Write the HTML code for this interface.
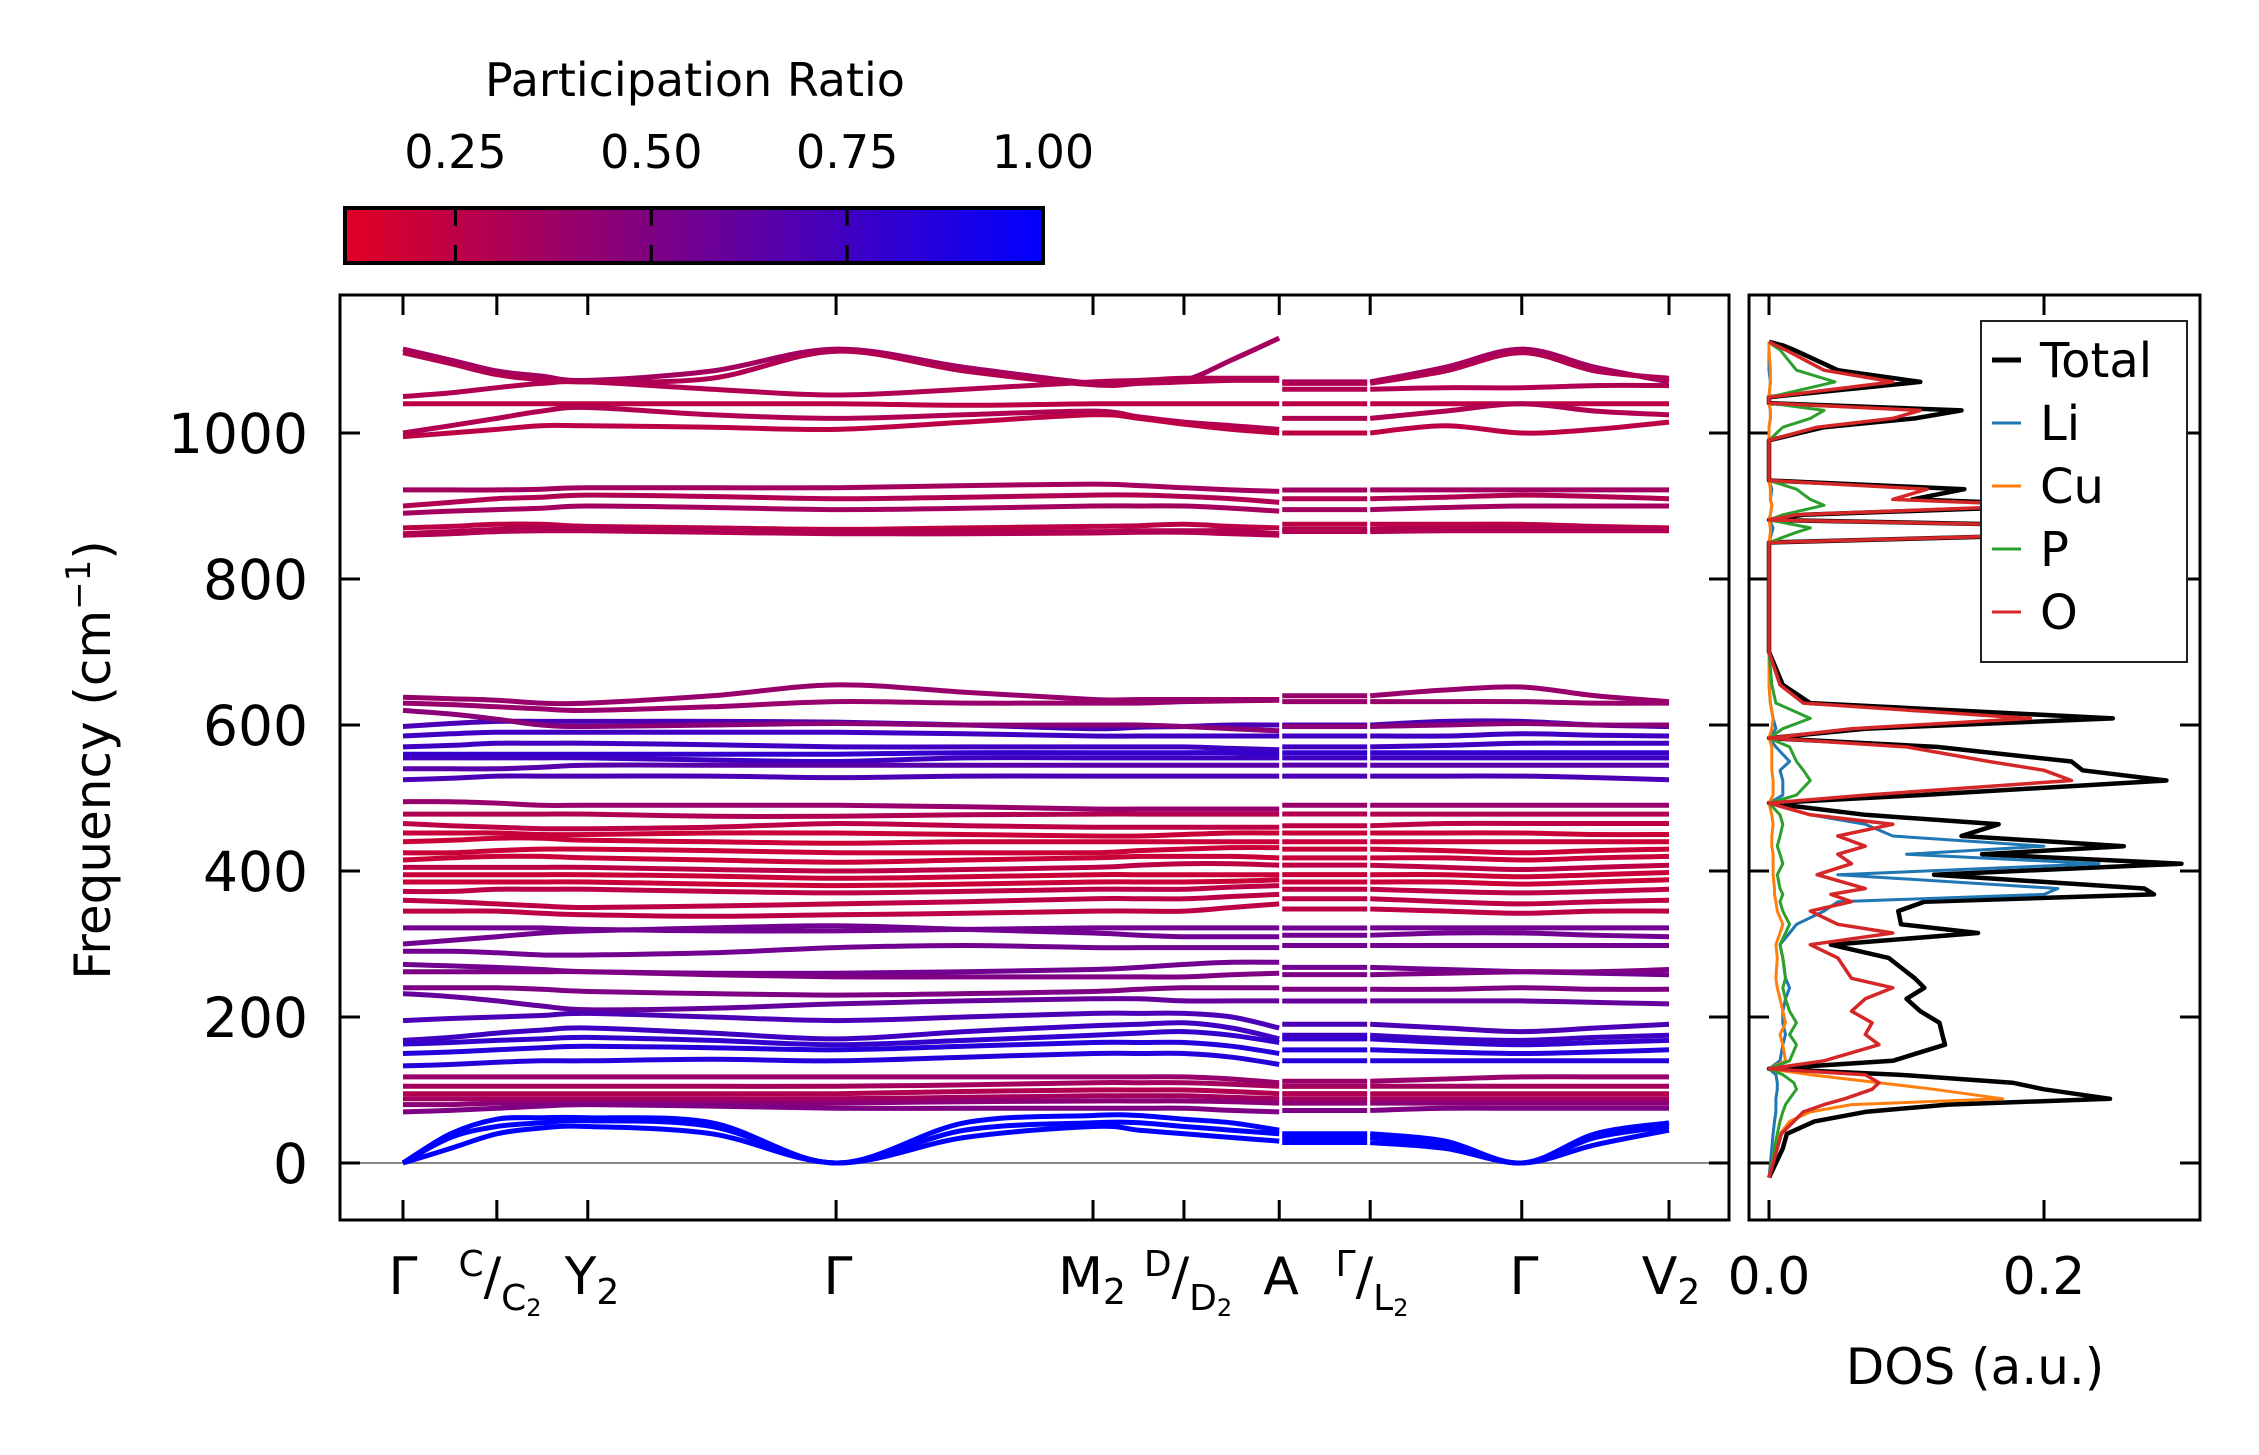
<!DOCTYPE html>
<html><head><meta charset="utf-8">
<style>
html,body{margin:0;padding:0;background:#fff;}
svg{display:block;font-family:"DejaVu Sans","Liberation Sans",sans-serif;}
</style></head>
<body>
<svg id="fig" width="2259" height="1455" viewBox="0 0 2259 1455" xmlns="http://www.w3.org/2000/svg">
<defs>
<linearGradient id="cbgrad" x1="0" x2="1" y1="0" y2="0">
<stop offset="0" stop-color="rgb(225,0,35)"/><stop offset="1" stop-color="rgb(0,0,255)"/>
</linearGradient>
<clipPath id="mainclip"><rect x="340" y="295" width="1389" height="925"/></clipPath>
<clipPath id="dosclip"><rect x="1749" y="295" width="451" height="925"/></clipPath>
</defs>
<g id="colorbar">
<text x="695" y="96" font-size="46" text-anchor="middle">Participation Ratio</text>
<rect x="345" y="208" width="698" height="55" fill="url(#cbgrad)" stroke="#000" stroke-width="4"/>
<g id="cbticks"></g>
</g>
<g id="main">
<line x1="340" x2="1729" y1="1163" y2="1163" stroke="#888" stroke-width="2"/>
<g id="bands" clip-path="url(#mainclip)"></g>
<rect x="340" y="295" width="1389" height="925" fill="none" stroke="#000" stroke-width="3"/>
<g id="mainticks"></g>
<text transform="translate(110,760) rotate(-90)" font-size="50" text-anchor="middle">Frequency (cm<tspan font-size="34" dy="-20">−1</tspan><tspan dy="20">)</tspan></text>
</g>
<g font-size="52">
<text x="403" y="1294" text-anchor="middle">Γ</text>
<text x="500" y="1294" text-anchor="middle"><tspan font-size="36" dy="-18">C</tspan><tspan dy="18">/</tspan><tspan font-size="36" dy="16">C</tspan><tspan font-size="24" dy="6">2</tspan></text>
<text x="592" y="1294" text-anchor="middle">Y<tspan font-size="36" dy="10">2</tspan></text>
<text x="838" y="1294" text-anchor="middle">Γ</text>
<text x="1092" y="1294" text-anchor="middle">M<tspan font-size="36" dy="10">2</tspan></text>
<text x="1188" y="1294" text-anchor="middle"><tspan font-size="36" dy="-18">D</tspan><tspan dy="18">/</tspan><tspan font-size="36" dy="16">D</tspan><tspan font-size="24" dy="6">2</tspan></text>
<text x="1281" y="1294" text-anchor="middle">A</text>
<text x="1372" y="1294" text-anchor="middle"><tspan font-size="36" dy="-18">Γ</tspan><tspan dy="18">/</tspan><tspan font-size="36" dy="16">L</tspan><tspan font-size="24" dy="6">2</tspan></text>
<text x="1524" y="1294" text-anchor="middle">Γ</text>
<text x="1671" y="1294" text-anchor="middle">V<tspan font-size="36" dy="10">2</tspan></text>
</g>
<g id="dos">
<g id="doslines" clip-path="url(#dosclip)"></g>
<rect x="1749" y="295" width="451" height="925" fill="none" stroke="#000" stroke-width="3"/>
<g id="dosticks"></g>
<text x="1975" y="1384" font-size="50" text-anchor="middle">DOS (a.u.)</text>
<g id="legend">
<rect x="1981" y="321" width="206" height="341" fill="#fff" stroke="#222" stroke-width="2"/>
</g>
</g>
</svg>
<script>
const kTicks = [0, 0.65, 1.28, 3.0, 4.78, 5.41, 6.07, 6.70, 7.75, 8.77];
const kNodes = [0,0.33,0.65,0.96,1.28,2.14,3.0,3.89,4.78,5.1,5.41,5.74,6.07, 6.70,7.22,7.75,8.26,8.77];
const yTicks = [0,200,400,600,800,1000];
const cbTicks = [0.25,0.50,0.75,1.00];
const cbTickLabels = ["0.25","0.50","0.75","1.00"];
const bandFreqs = [
[1115,1100,1085,1078,1072,1085,1115,1090,1068,1070,1072,1100,1130, 1070,1090,1115,1090,1070],
[1110,1095,1080,1073,1070,1075,1112,1085,1066,1068,1070,1072,1072, 1068,1085,1110,1085,1075],
[1050,1055,1062,1068,1070,1060,1052,1060,1070,1072,1075,1075,1075, 1060,1062,1062,1065,1065],
[1040,1040,1040,1040,1040,1040,1040,1038,1040,1040,1040,1040,1040, 1040,1040,1040,1040,1040],
[1000,1010,1020,1030,1035,1025,1020,1025,1030,1022,1015,1010,1005, 1020,1030,1040,1030,1025],
[995,1000,1005,1010,1010,1008,1005,1015,1025,1020,1012,1005,1000, 1000,1010,1000,1005,1015],
[922,922,922,923,925,925,925,928,930,928,925,922,920, 922,922,922,922,922],
[900,905,910,912,915,913,910,912,915,915,913,910,905, 910,912,915,913,910],
[890,893,895,897,900,898,895,897,900,900,900,897,893, 895,898,900,900,900],
[870,872,875,875,872,870,868,870,872,873,875,872,870, 875,875,875,872,870],
[862,865,868,870,870,868,865,865,865,866,866,866,862, 868,870,870,870,868],
[860,862,865,866,866,864,862,862,863,864,864,862,860, 865,866,866,866,866],
[638,636,634,630,630,640,655,645,635,635,635,635,635, 640,648,652,640,632],
[630,628,625,622,620,625,632,630,630,630,632,633,634, 632,632,632,630,630],
[598,602,605,605,605,605,604,600,595,597,598,600,600, 600,605,605,600,598],
[620,615,608,600,598,600,602,600,600,600,598,595,592, 598,600,602,600,600],
[585,588,590,590,590,590,590,588,585,585,585,585,585, 585,585,588,586,585],
[570,572,575,575,575,573,570,570,570,570,570,568,566, 570,572,575,575,575],
[560,560,560,560,560,560,560,562,562,562,562,562,560, 562,562,562,562,562],
[555,555,555,555,555,552,550,555,555,555,555,555,555, 555,555,555,555,555],
[540,540,540,542,545,545,545,545,545,545,545,545,545, 545,545,545,545,545],
[525,527,530,530,530,530,528,530,530,530,530,530,530, 530,530,530,528,525],
[495,495,493,490,490,490,490,488,485,485,485,485,485, 490,490,490,490,490],
[478,478,478,478,478,475,475,477,478,478,478,478,478, 478,478,478,478,478],
[465,462,460,458,458,460,465,462,460,460,460,460,460, 462,465,465,465,465],
[452,452,452,450,450,452,452,450,448,448,450,452,452, 452,452,452,450,450],
[440,442,445,445,442,440,438,440,440,440,440,440,440, 440,440,440,440,440],
[425,425,428,430,430,428,425,425,425,428,430,432,432, 430,428,425,428,430],
[415,418,420,420,418,415,412,415,418,420,420,420,418, 418,418,415,418,420],
[405,405,405,405,405,402,400,402,405,408,410,410,408, 408,405,402,405,408],
[395,395,395,395,395,393,390,392,395,395,395,395,395, 395,395,392,395,398],
[385,385,385,385,385,382,380,382,385,385,385,386,388, 385,385,382,385,388],
[372,372,375,375,375,372,370,372,375,375,375,378,380, 375,372,370,372,375],
[360,358,355,352,350,352,355,358,362,362,362,365,368, 362,358,355,358,360],
[345,345,345,342,340,338,340,342,345,345,345,350,355, 348,345,342,345,345],
[322,322,322,322,320,318,318,320,322,322,322,322,322, 322,322,322,322,322],
[300,305,310,315,318,322,325,320,315,312,310,310,310, 312,315,315,312,310],
[290,290,288,285,285,288,295,298,295,295,295,295,295, 298,298,298,298,298],
[272,270,268,265,262,260,260,262,265,268,272,275,275, 268,265,262,260,258],
[262,262,262,262,262,258,255,255,255,255,255,258,260, 258,260,262,262,265],
[240,240,240,238,235,232,230,232,235,238,240,240,240, 238,238,240,238,238],
[232,228,222,215,210,212,218,222,225,225,222,222,222, 222,222,222,220,218],
[195,198,200,202,205,200,195,200,205,205,205,200,185, 190,185,180,185,190],
[168,172,178,182,185,178,170,180,188,190,192,185,170, 175,170,168,172,175],
[163,165,168,170,172,168,162,168,175,178,180,175,165, 170,165,162,165,168],
[150,152,155,158,160,158,155,160,165,165,165,160,150, 155,152,150,152,155],
[133,135,138,140,140,142,140,145,150,150,150,145,135, 140,140,140,140,140],
[118,118,118,118,118,118,118,118,118,118,118,115,110, 112,115,118,118,118],
[105,105,105,105,105,105,105,107,110,110,110,108,105, 105,105,105,105,105],
[95,95,95,95,95,95,95,98,100,100,100,98,95, 95,95,95,95,95],
[88,88,88,88,88,88,88,90,92,92,92,90,88, 88,88,88,88,88],
[80,80,82,82,82,82,82,84,85,85,85,84,82, 82,82,82,82,82],
[70,72,75,78,80,78,75,75,75,75,75,72,70, 72,75,75,75,75],
[0,40,60,62,62,55,0,55,65,65,60,55,45, 40,30,0,40,55],
[0,35,50,55,58,50,0,45,55,55,50,45,40, 35,25,0,35,50],
[0,20,40,48,50,40,0,35,50,45,40,35,30, 28,20,0,25,45]
];
const bandPR = [0.35,0.3,0.3,0.25,0.3,0.25,0.35,0.3,0.35,0.25,0.3,0.3,
0.4,0.4,0.7,0.45,0.75,0.75,0.8,0.75,0.65,0.7,
0.4,0.3,0.25,0.2,0.2,0.2,0.2,0.25,0.2,0.2,0.25,0.25,0.25,
0.55,0.55,0.55,0.55,0.5,0.5,0.6,
0.7,0.75,0.8,0.85,0.85,
0.4,0.35,0.3,0.35,0.45,0.5,
1.0,1.0,1.0];
const dosFreq = [-20,0,20,40,57,70,80,88,101,110,121,129,140,162,176,192,208,225,240,253,281,299,315,327,345,358,368,376,395,410,423,434,448,464,477,493,504,524,538,550,570,582,595,609,630,655,700,850,864,870,881,888,901,909,923,935,990,1008,1020,1031,1041,1049,1070,1086,1114,1120,1125];
const dosTotal = [0,0.005,0.01,0.013,0.033,0.07,0.13,0.248,0.2,0.177,0.094,0.0,0.09,0.128,0.126,0.124,0.11,0.1,0.113,0.106,0.087,0.045,0.152,0.096,0.094,0.113,0.28,0.273,0.12,0.3,0.155,0.258,0.14,0.167,0.07,0.0,0.11,0.289,0.228,0.22,0.122,0.0,0.07,0.25,0.03,0.01,0,0,0.28,0.3,0.0,0.025,0.22,0.104,0.142,0.0,0,0.04,0.106,0.14,0.0,0.0,0.11,0.05,0.018,0.01,0];
const dosLi = [0,0.001,0.002,0.003,0.004,0.005,0.005,0.005,0.006,0.006,0.005,0,0.008,0.01,0.012,0.01,0.01,0.012,0.015,0.012,0.01,0.008,0.015,0.02,0.04,0.05,0.2,0.21,0.05,0.24,0.1,0.2,0.09,0.07,0.03,0.0,0.01,0.01,0.008,0.015,0.005,0,0.005,0.003,0.001,0,0,0,0.002,0.003,0,0.001,0.002,0.001,0.002,0,0,0,0.001,0.001,0,0,0.001,0,0,0,0];
const dosCu = [0,0.002,0.005,0.008,0.015,0.03,0.06,0.17,0.12,0.08,0.03,0,0.012,0.01,0.008,0.012,0.01,0.008,0.006,0.005,0.006,0.005,0.008,0.01,0.006,0.005,0.004,0.004,0.003,0.003,0.003,0.002,0.002,0.003,0.002,0,0.003,0.003,0.002,0.002,0.002,0,0.002,0.003,0.001,0,0,0,0.001,0.001,0,0.001,0.002,0.001,0.001,0,0,0,0.001,0.001,0,0,0.001,0.001,0,0,0];
const dosP = [0,0.002,0.004,0.006,0.008,0.01,0.012,0.015,0.02,0.018,0.01,0,0.015,0.02,0.015,0.02,0.015,0.012,0.01,0.012,0.01,0.008,0.012,0.015,0.01,0.008,0.01,0.008,0.006,0.01,0.008,0.006,0.008,0.01,0.008,0,0.02,0.03,0.025,0.02,0.015,0,0.01,0.03,0.005,0.002,0,0,0.02,0.03,0,0.01,0.04,0.03,0.02,0,0,0.01,0.03,0.04,0,0,0.048,0.02,0.008,0.003,0];
const dosO = [0,0.003,0.006,0.009,0.018,0.025,0.04,0.055,0.075,0.08,0.07,0.0,0.04,0.08,0.07,0.075,0.06,0.07,0.09,0.06,0.05,0.03,0.09,0.05,0.03,0.06,0.045,0.07,0.035,0.06,0.05,0.07,0.05,0.09,0.03,0.0,0.07,0.22,0.2,0.16,0.1,0.0,0.06,0.19,0.025,0.008,0,0,0.27,0.29,0.0,0.02,0.2,0.09,0.115,0.0,0,0.035,0.09,0.11,0.0,0.0,0.09,0.04,0.012,0.005,0];
const dosXTicks = [0.0, 0.2];
const dosXTickLabels = ["0.0","0.2"];
const legendLabels = ["Total","Li","Cu","P","O"];

const NS = "http://www.w3.org/2000/svg";
const xk = k => 403 + k * (1669 - 403) / 8.77;
const yf = f => 1163 - f * 0.73;
const xd = v => 1769 + v * 1375;
const xcb = p => 345 + (p - 0.109) / (1 - 0.109) * 698;
function mk(tag, attrs, parent){const e=document.createElementNS(NS,tag);for(const a in attrs)e.setAttribute(a,attrs[a]);parent.appendChild(e);return e;}
function prColor(p){const t=Math.max(0,Math.min(1,(p-0.109)/(1-0.109)));return `rgb(${Math.round(225*(1-t))},0,${Math.round(35+220*t)})`;}
function smoothPath(pts){
  let d=`M${pts[0][0].toFixed(1)},${pts[0][1].toFixed(1)}`;
  for(let i=0;i<pts.length-1;i++){
    const p0=pts[Math.max(0,i-1)],p1=pts[i],p2=pts[i+1],p3=pts[Math.min(pts.length-1,i+2)];
    const c1=[p1[0]+(p2[0]-p0[0])/6,p1[1]+(p2[1]-p0[1])/6];
    const c2=[p2[0]-(p3[0]-p1[0])/6,p2[1]-(p3[1]-p1[1])/6];
    d+=`C${c1[0].toFixed(1)},${c1[1].toFixed(1)} ${c2[0].toFixed(1)},${c2[1].toFixed(1)} ${p2[0].toFixed(1)},${p2[1].toFixed(1)}`;
  }
  return d;
}

const cbg=document.getElementById('cbticks');
cbTicks.forEach((p,i)=>{
  const x=xcb(p);
  if(p<1){
    const t1=mk('line',{x1:x,x2:x,y1:208,y2:226,stroke:'#000','stroke-width':3},cbg);
    
    
    const t2=mk('line',{x1:x,x2:x,y1:245,y2:263,stroke:'#000','stroke-width':3},cbg);
    
    
  }
  const tx=mk('text',{x:x,y:168,'font-size':46,'text-anchor':'middle'},cbg);
  tx.textContent=cbTickLabels[i];
  
  
});

const bg=document.getElementById('bands');
bandFreqs.forEach((b,bi)=>{
  const col=prColor(bandPR[bi]);
  const p1=[];for(let i=0;i<=12;i++)p1.push([xk(kNodes[i]),yf(b[i])]);
  const p3=[];for(let i=13;i<kNodes.length;i++)p3.push([xk(kNodes[i]),yf(b[i])]);
  const a=mk('path',{d:smoothPath(p1),fill:'none',stroke:col,'stroke-width':5},bg);
  
  
  const m=mk('line',{x1:xk(kNodes[12])+3,x2:xk(kNodes[13])-3,y1:yf(b[13]),y2:yf(b[13]),stroke:col,'stroke-width':5},bg);
  
  
  const c=mk('path',{d:smoothPath(p3),fill:'none',stroke:col,'stroke-width':5},bg);
  
  
});

const mt=document.getElementById('mainticks');
yTicks.forEach(f=>{
  const y=yf(f);
  const l=mk('line',{x1:340,x2:360,y1:y,y2:y,stroke:'#000','stroke-width':3},mt);
  
  
  const r=mk('line',{x1:1709,x2:1729,y1:y,y2:y,stroke:'#000','stroke-width':3},mt);
  
  
  const t=mk('text',{x:308,y:y+20,'font-size':55,'text-anchor':'end'},mt);
  t.textContent=String(f);
  
  
  const dl=mk('line',{x1:1749,x2:1769,y1:y,y2:y,stroke:'#000','stroke-width':3},mt);
  
  
  const dr=mk('line',{x1:2180,x2:2200,y1:y,y2:y,stroke:'#000','stroke-width':3},mt);
  
  
});
kTicks.forEach(k=>{
  const x=xk(k);
  const a=mk('line',{x1:x,x2:x,y1:295,y2:315,stroke:'#000','stroke-width':3},mt);
  
  
  const b=mk('line',{x1:x,x2:x,y1:1200,y2:1220,stroke:'#000','stroke-width':3},mt);
  
  
});

const dg=document.getElementById('doslines');
const dosSeries=[dosTotal,dosLi,dosCu,dosP,dosO];
const dosColors=['#000','#1f77b4','#ff7f0e','#2ca02c','#d62728'];
const dosWidths=[4.5,3,3,3,3.5];
dosSeries.forEach((s,si)=>{
  const pts=s.map((v,i)=>`${xd(v).toFixed(1)},${yf(dosFreq[i]).toFixed(1)}`).join(' ');
  const pl=mk('polyline',{points:pts,fill:'none',stroke:dosColors[si],'stroke-width':dosWidths[si],'stroke-linejoin':'round'},dg);
  
  
});
const dt=document.getElementById('dosticks');
dosXTicks.forEach((v,i)=>{
  const x=xd(v);
  const a=mk('line',{x1:x,x2:x,y1:295,y2:315,stroke:'#000','stroke-width':3},dt);
  
  
  const b=mk('line',{x1:x,x2:x,y1:1200,y2:1220,stroke:'#000','stroke-width':3},dt);
  
  
  const t=mk('text',{x:x,y:1294,'font-size':52,'text-anchor':'middle'},dt);
  t.textContent=dosXTickLabels[i];
  
  
});
const lg=document.getElementById('legend');
legendLabels.forEach((lab,i)=>{
  const y=360+i*63;
  const h=mk('line',{x1:1992,x2:2021,y1:y,y2:y,stroke:dosColors[i],'stroke-width':i===0?5:3},lg);
  
  
  const t=mk('text',{x:2040,y:y+17,'font-size':48},lg);
  t.textContent=lab;
  
  
});
</script>
</body></html>
